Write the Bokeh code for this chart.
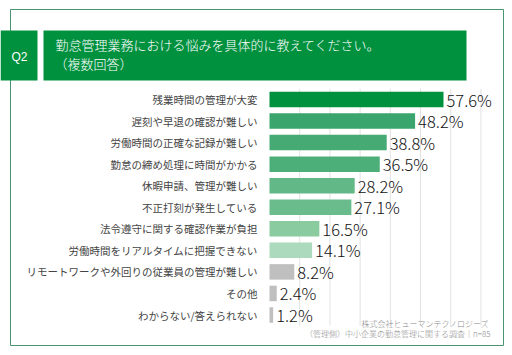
from bokeh.plotting import figure
from bokeh.models import Range1d
from bokeh.core.properties import value
from bokeh.embed import file_html
from bokeh.resources import INLINE

categories = [
    "残業時間の管理が大変",
    "遅刻や早退の確認が難しい",
    "労働時間の正確な記録が難しい",
    "勤怠の締め処理に時間がかかる",
    "休暇申請、管理が難しい",
    "不正打刻が発生している",
    "法令遵守に関する確認作業が負担",
    "労働時間をリアルタイムに把握できない",
    "リモートワークや外回りの従業員の管理が難しい",
    "その他",
    "わからない/答えられない",
]
values = [57.6, 48.2, 38.8, 36.5, 28.2, 27.1, 16.5, 14.1, 8.2, 2.4, 1.2]
grid_ticks = [10, 20, 30, 40, 50, 60, 70]
title_line1 = "勤怠管理業務における悩みを具体的に教えてください。"
title_line2 = "（複数回答）"
q_label = "Q2"
source_line1 = "株式会社ヒューマンテクノロジーズ"
source_line2 = "（管理側）中小企業の勤怠管理に関する調査｜n=85"

bar_colors = ["#00913f", "#3aa56c", "#46aa74", "#4caf7a", "#62b886", "#6bbc8d",
              "#8acb9f", "#abdabc", "#bfbfbf", "#bfbfbf", "#bfbfbf"]

FONT = "Noto Sans CJK JP"
LIGHT = "'Noto Sans CJK JP Light', 'Noto Sans CJK JP'"
GREEN = "#00913f"

idx = list(range(len(categories)))
labels = [f"{v}%" for v in values]

W, H = 512, 355
px_per_pct = 174 / 57.6
x0_px = 269
y0_px = 99
row_px = 21.55

p = figure(width=W, height=H, output_backend="svg", toolbar_location=None,
           x_axis_type=None, y_axis_type=None, min_border=0,
           x_range=Range1d(-x0_px / px_per_pct, (W - x0_px) / px_per_pct),
           y_range=Range1d((H - y0_px) / row_px, -y0_px / row_px),
           outline_line_color=None, background_fill_color="white",
           border_fill_color="white")
p.grid.visible = False
p.extra_x_ranges = {"px": Range1d(0, W)}
p.extra_y_ranges = {"px": Range1d(H, 0)}

# outer frame
p.quad(left=[10], right=[503], top=[9], bottom=[345], fill_color=None,
       line_color="#4a9470", line_width=1, x_range_name="px", y_range_name="px")

# header boxes
p.quad(left=[0, 43], right=[37, 466], top=[30, 30], bottom=[80, 80],
       fill_color=GREEN, line_color=None, x_range_name="px", y_range_name="px")
p.text(x=[19], y=[56], text=[q_label], text_color="white", text_font_size="12px",
       text_font=value("Liberation Sans"), text_align="center", text_baseline="middle",
       x_range_name="px", y_range_name="px")
p.text(x=[55, 54], y=[44, 63], text=[title_line1, title_line2], text_color="white",
       text_font_size="13px", text_font=value(LIGHT), text_baseline="middle",
       x_range_name="px", y_range_name="px")

# gridlines
p.segment(x0=grid_ticks, x1=grid_ticks, y0=[-0.5] * len(grid_ticks),
          y1=[10.5] * len(grid_ticks), line_color="#e2e2e2", line_width=1)

# bars
p.hbar(y=idx, left=0, right=values, height=0.72, fill_color=bar_colors, line_color=None)

# category labels
p.text(x=[0] * len(idx), y=idx, text=categories, x_offset=-12, text_align="right",
       text_baseline="middle", text_font_size="10.5px", text_font=value(FONT),
       text_color="#444444")

# value labels
p.text(x=values, y=idx, text=labels, x_offset=3, text_align="left",
       text_baseline="middle", text_font_size="16.5px", text_font=value(LIGHT),
       text_color="#111111")

# source
p.text(x=[489, 490], y=[323, 333], text=[source_line1, source_line2], text_align="right",
       text_baseline="middle", text_font_size="8px", text_font=value(LIGHT),
       text_color="#8a8a8a", x_range_name="px", y_range_name="px")

open("out.html", "w").write(file_html(p, INLINE))
